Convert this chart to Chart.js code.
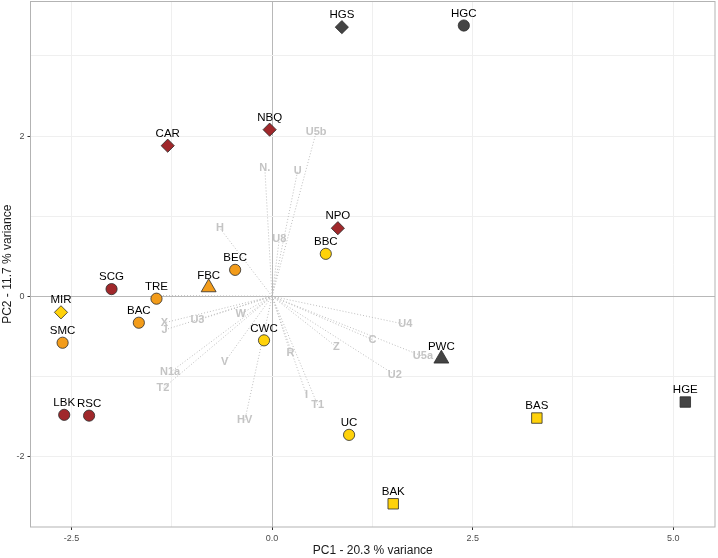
<!DOCTYPE html>
<html lang="en">
<head>
<meta charset="UTF-8">
<title>PCA biplot</title>
<script src="https://cdn.jsdelivr.net/npm/chart.js"></script>
<style>
  html, body { margin: 0; padding: 0; background: #fff; }
  #wrap { width: 718px; height: 558px; }
</style>
</head>
<body>
<div id="wrap"><canvas id="pca" width="718" height="558"></canvas></div>
<script>
// site scores
const siteNames = ['HGS', 'HGC', 'NBQ', 'CAR', 'NPO', 'BBC', 'BEC', 'FBC', 'SCG', 'TRE', 'MIR', 'BAC', 'SMC', 'CWC', 'LBK', 'RSC', 'UC', 'PWC', 'HGE', 'BAS', 'BAK'];
const sitePC1 = [0.87, 2.39, -0.03, -1.30, 0.82, 0.67, -0.46, -0.79, -2.00, -1.44, -2.63, -1.66, -2.61, -0.10, -2.59, -2.28, 0.96, 2.11, 5.15, 3.30, 1.51];
const sitePC2 = [3.36, 3.38, 2.08, 1.88, 0.85, 0.53, 0.33, 0.11, 0.09, -0.03, -0.20, -0.33, -0.58, -0.55, -1.48, -1.49, -1.73, -0.78, -1.32, -1.52, -2.59];
const siteGroup = ['grey', 'grey', 'red', 'red', 'red', 'yellow', 'orange', 'orange', 'red', 'orange', 'yellow', 'orange', 'orange', 'yellow', 'red', 'red', 'yellow', 'grey', 'grey', 'yellow', 'yellow'];
const siteShape = ['diamond', 'circle', 'diamond', 'diamond', 'diamond', 'circle', 'circle', 'triangle', 'circle', 'circle', 'diamond', 'circle', 'circle', 'circle', 'circle', 'circle', 'circle', 'triangle', 'square', 'square', 'square'];

// variable loadings (label positions)
const varNames = ['U5b', 'N.', 'U', 'H', 'U8', 'W', 'U3', 'X', 'J', 'V', 'N1a', 'T2', 'HV', 'R', 'I', 'T1', 'Z', 'C', 'U2', 'U4', 'U5a', ''];
const varPC1 = [0.55, -0.09, 0.32, -0.65, 0.09, -0.39, -0.93, -1.34, -1.34, -0.59, -1.27, -1.36, -0.34, 0.23, 0.43, 0.57, 0.80, 1.25, 1.53, 1.66, 1.88, -1.40];
const varPC2 = [2.05, 1.60, 1.57, 0.85, 0.71, -0.22, -0.30, -0.33, -0.42, -0.82, -0.95, -1.15, -1.55, -0.71, -1.23, -1.36, -0.63, -0.54, -0.98, -0.35, -0.75, 0.01];

// axes
const xTickValues = [-2.5, 0, 2.5, 5];
const yTickValues = [-2, 0, 2];
const xGridValues = [-2.5, -1.25, 0, 1.25, 2.5, 3.75, 5];
const yGridValues = [-2, -1, 0, 1, 2, 3];
const xTitle = 'PC1 - 20.3 % variance';
const yTitle = 'PC2 - 11.7 % variance';

const groupColors = { red: '#A0282B', orange: '#F39C1A', yellow: '#FFD20A', grey: '#444444' };
const shapeStyle = {
    circle:   { style: 'circle',   radius: 5.6 },
    diamond:  { style: 'rectRot',  radius: 6.6 },
    triangle: { style: 'triangle', radius: 8.6 },
    square:   { style: 'rect',     radius: 7.4 }
};
const FONT = '"Liberation Sans", Arial, sans-serif';
Chart.defaults.font.family = FONT;

const loadingSets = varNames.map((name, i) => ({
    label: name,
    isLoading: true,
    data: [{ x: 0, y: 0 }, { x: varPC1[i], y: varPC2[i] }],
    showLine: true,
    borderColor: '#BDBDBD',
    borderWidth: 1,
    borderDash: [1, 2],
    pointRadius: 0,
    order: 2
}));

const siteSet = {
    label: 'sites',
    data: siteNames.map((n, i) => ({ x: sitePC1[i], y: sitePC2[i] })),
    backgroundColor: ctx => groupColors[siteGroup[ctx.dataIndex]],
    borderColor: '#2b2b2b',
    borderWidth: 0.8,
    pointStyle: ctx => shapeStyle[siteShape[ctx.dataIndex]].style,
    pointRadius: ctx => shapeStyle[siteShape[ctx.dataIndex]].radius,
    order: 1
};

function drawVarLabels(chart) {
    const { ctx, scales } = chart;
    ctx.save();
    ctx.font = 'bold 11px ' + FONT;
    ctx.fillStyle = '#C4C4C4';
    ctx.textAlign = 'center';
    ctx.textBaseline = 'middle';
    varNames.forEach((n, i) => {
        if (!n) return;
        ctx.fillText(n, scales.x.getPixelForValue(varPC1[i]), scales.y.getPixelForValue(varPC2[i]));
    });
    ctx.restore();
}

const labelPlugin = {
    id: 'biplotLabels',
    beforeDatasetsDraw(chart) { chart.$varDone = false; },
    beforeDatasetDraw(chart, args) {
        if (!chart.data.datasets[args.index].isLoading && !chart.$varDone) {
            drawVarLabels(chart);
            chart.$varDone = true;
        }
    },
    afterDatasetsDraw(chart) {
        const { ctx, scales, chartArea } = chart;
        ctx.save();
        ctx.font = '11.5px ' + FONT;
        ctx.fillStyle = '#000';
        ctx.textAlign = 'center';
        ctx.textBaseline = 'middle';
        siteNames.forEach((n, i) => {
            ctx.fillText(n, scales.x.getPixelForValue(sitePC1[i]), scales.y.getPixelForValue(sitePC2[i]) - 12);
        });
        // panel border
        ctx.strokeStyle = '#B3B3B3';
        ctx.lineWidth = 1;
        ctx.strokeRect(chartArea.left, chartArea.top, chartArea.right - chartArea.left, chartArea.bottom - chartArea.top);
        ctx.restore();
    }
};

function gridColor(ctx) {
    if (!ctx.tick) return 'transparent';
    return ctx.tick.value === 0 ? '#B8B8B8' : '#EFEFEF';
}

new Chart(document.getElementById('pca'), {
    type: 'scatter',
    data: { datasets: [siteSet].concat(loadingSets) },
    options: {
        responsive: false,
        animation: false,
        layout: { autoPadding: false, padding: { top: 1.5, right: 3, left: 0, bottom: 0 } },
        plugins: { legend: { display: false }, tooltip: { enabled: false } },
        scales: {
            x: {
                type: 'linear',
                min: -3.01,
                max: 5.52,
                afterBuildTicks: s => { s.ticks = xGridValues.map(v => ({ value: v })); },
                afterFit: s => { s.height = 31; s.paddingLeft = 0; s.paddingRight = 0; },
                border: { display: false },
                grid: {
                    color: gridColor,
                    lineWidth: 1,
                    tickLength: 3,
                    tickColor: ctx => (ctx.tick && xTickValues.includes(ctx.tick.value)) ? '#333333' : 'transparent'
                },
                ticks: {
                    autoSkip: false,
                    maxRotation: 0,
                    padding: 3,
                    color: '#4D4D4D',
                    font: { size: 9 },
                    callback: v => xTickValues.includes(v) ? v.toFixed(1) : ''
                },
                title: { display: true, text: xTitle, color: '#1A1A1A', font: { size: 12 }, padding: 0 }
            },
            y: {
                type: 'linear',
                min: -2.88,
                max: 3.68,
                afterBuildTicks: s => { s.ticks = yGridValues.map(v => ({ value: v })); },
                afterFit: s => { s.width = 30.5; s.paddingTop = 0; s.paddingBottom = 0; },
                border: { display: false },
                grid: {
                    color: gridColor,
                    lineWidth: 1,
                    tickLength: 3,
                    tickColor: ctx => (ctx.tick && yTickValues.includes(ctx.tick.value)) ? '#333333' : 'transparent'
                },
                ticks: {
                    autoSkip: false,
                    padding: 3,
                    color: '#4D4D4D',
                    font: { size: 9 },
                    callback: v => yTickValues.includes(v) ? String(v) : ''
                },
                title: { display: true, text: yTitle, color: '#1A1A1A', font: { size: 12 }, padding: 0 }
            }
        }
    },
    plugins: [labelPlugin]
});
</script>
</body>
</html>
